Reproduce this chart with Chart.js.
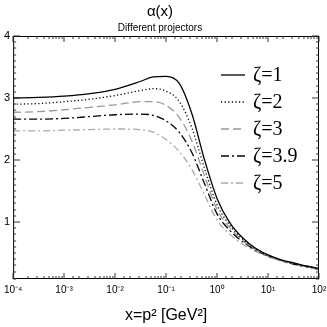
<!DOCTYPE html>
<html>
<head>
<meta charset="utf-8">
<style>
  html, body { margin: 0; padding: 0; background: #fff; }
  #wrap { width: 327px; height: 327px; }
</style>
<script src="https://cdn.jsdelivr.net/npm/chart.js@4.4.1/dist/chart.umd.min.js"></script>
</head>
<body>
<div id="wrap"><canvas id="c" width="327" height="327"></canvas></div>
<script>
// alpha(x) for several projectors
const xs     = [1e-4, 3.2e-4, 1e-3, 3.2e-3, 1e-2, 3.2e-2, 5.6e-2, 0.1, 0.18, 0.32, 0.56, 1, 1.8, 3.2, 5.6, 10, 18, 32, 56, 100];
const zeta1  = [3.00, 3.01, 3.03, 3.07, 3.14, 3.27, 3.34, 3.35, 3.24, 2.75, 2.02, 1.38, 0.98, 0.74, 0.58, 0.47, 0.39, 0.34, 0.29, 0.25];
const zeta2  = [2.90, 2.91, 2.94, 2.98, 3.04, 3.12, 3.15, 3.11, 2.95, 2.52, 1.88, 1.28, 0.94, 0.72, 0.57, 0.46, 0.39, 0.33, 0.29, 0.25];
const zeta3  = [2.77, 2.78, 2.81, 2.85, 2.89, 2.94, 2.94, 2.88, 2.69, 2.31, 1.76, 1.20, 0.90, 0.70, 0.56, 0.45, 0.38, 0.33, 0.28, 0.24];
const zeta39 = [2.66, 2.66, 2.67, 2.70, 2.73, 2.74, 2.72, 2.63, 2.45, 2.12, 1.63, 1.13, 0.86, 0.68, 0.55, 0.45, 0.38, 0.32, 0.28, 0.24];
const zeta5  = [2.47, 2.47, 2.48, 2.49, 2.50, 2.49, 2.45, 2.33, 2.14, 1.85, 1.45, 1.03, 0.80, 0.64, 0.53, 0.44, 0.37, 0.32, 0.27, 0.23];
const labels = ['\u03B6=1', '\u03B6=2', '\u03B6=3', '\u03B6=3.9', '\u03B6=5'];
const yLabels = [1, 2, 3, 4];

const sup = {'-':'\u207B','0':'\u2070','1':'\u00B9','2':'\u00B2','3':'\u00B3','4':'\u2074'};
const isDecade = v => Math.abs(Math.log10(v) - Math.round(Math.log10(v))) < 1e-6;
const decadeLabel = v => '10' + String(Math.round(Math.log10(v))).split('').map(ch=>sup[ch]).join('');
const SANS = '"Liberation Sans", Arial, sans-serif';

const pts = ys => ys.map((y,i)=>({x: xs[i], y}));
const line = (label, ys, color, dash) => ({ label, data: pts(ys), borderColor: color, borderWidth: 1.3, borderDash: dash, pointRadius: 0, fill: false, cubicInterpolationMode: 'monotone' });

// frame, inward tick marks on all four sides, and the legend inside the plot
const framePlugin = {
  id: 'frame',
  afterDraw(chart){
    const {ctx, chartArea: a, scales} = chart;
    ctx.save();
    ctx.setLineDash([]);
    ctx.strokeStyle = '#000'; ctx.lineWidth = 1;
    ctx.strokeRect(a.left+0.5, a.top+0.5, a.right-a.left-1, a.bottom-a.top-1);
    ctx.strokeStyle = '#333';
    ctx.beginPath();
    scales.x.ticks.forEach(t=>{
      const p = Math.round(scales.x.getPixelForValue(t.value));
      const len = isDecade(t.value) ? 6 : 3;
      ctx.moveTo(p, a.bottom); ctx.lineTo(p, a.bottom-len);
      ctx.moveTo(p, a.top); ctx.lineTo(p, a.top+len);
    });
    scales.y.ticks.forEach(t=>{
      const p = Math.round(scales.y.getPixelForValue(t.value));
      const len = Math.abs(t.value-Math.round(t.value))<1e-6 ? 7 : 3;
      ctx.moveTo(a.left, p); ctx.lineTo(a.left+len, p);
      ctx.moveTo(a.right, p); ctx.lineTo(a.right-len, p);
    });
    ctx.stroke();
    // legend
    ctx.font = '20px "Liberation Serif", "DejaVu Serif", serif';
    ctx.textBaseline = 'middle'; ctx.fillStyle = '#000';
    chart.data.datasets.forEach((ds,i)=>{
      const y = 75 + i*27;
      ctx.beginPath();
      ctx.setLineDash(ds.borderDash || []);
      ctx.strokeStyle = ds.borderColor; ctx.lineWidth = ds.borderWidth;
      ctx.moveTo(221, y); ctx.lineTo(245, y); ctx.stroke();
      ctx.setLineDash([]);
      ctx.fillText(ds.label, 253, y+1);
    });
    ctx.restore();
  }
};

new Chart(document.getElementById('c'), {
  type: 'line',
  data: { datasets: [
    line(labels[0], zeta1, '#000', []),
    line(labels[1], zeta2, '#000', [1.2, 2.4]),
    line(labels[2], zeta3, '#999', [8, 4]),
    line(labels[3], zeta39, '#000', [8, 3, 2, 3]),
    line(labels[4], zeta5, '#aaa', [7, 3, 2, 3])
  ] },
  options: {
    responsive: false, animation: false, events: [],
    layout: { padding: { left: 1, right: 8, top: 0, bottom: 0 } },
    plugins: {
      legend: { display: false }, tooltip: { enabled: false },
      title: { display: true, text: '\u03B1(x)', color: '#000', font: { family: SANS, size: 15, weight: 'normal', lineHeight: 1 }, padding: { top: 4, bottom: 0 } },
      subtitle: { display: true, text: 'Different projectors', color: '#000', font: { family: SANS, size: 10, lineHeight: 1 }, padding: { top: 4, bottom: 3 } }
    },
    scales: {
      x: { type: 'logarithmic', min: 1e-4, max: 100,
        grid: { display: false, drawTicks: false }, border: { display: false },
        afterFit: s => { s.paddingLeft = 0; s.paddingRight = 0; },
        ticks: { color: '#000', autoSkip: false, maxRotation: 0, padding: 6, font: { family: SANS, size: 10, lineHeight: 1 },
          callback: v => isDecade(v) ? decadeLabel(v) : '' },
        title: { display: true, text: 'x=p\u00B2 [GeV\u00B2]', color: '#000', padding: { top: 7, bottom: 3 }, font: { family: SANS, size: 16, lineHeight: 1 } } },
      y: { min: 0.08, max: 4,
        grid: { display: false, drawTicks: false }, border: { display: false },
        ticks: { color: '#000', stepSize: 0.1, autoSkip: false, maxTicksLimit: 100, padding: 3, font: { family: SANS, size: 11 },
          callback: v => yLabels.some(l => Math.abs(l - v) < 1e-6) ? String(Math.round(v)) : '' } }
    }
  },
  plugins: [framePlugin]
});
</script>
</body>
</html>
